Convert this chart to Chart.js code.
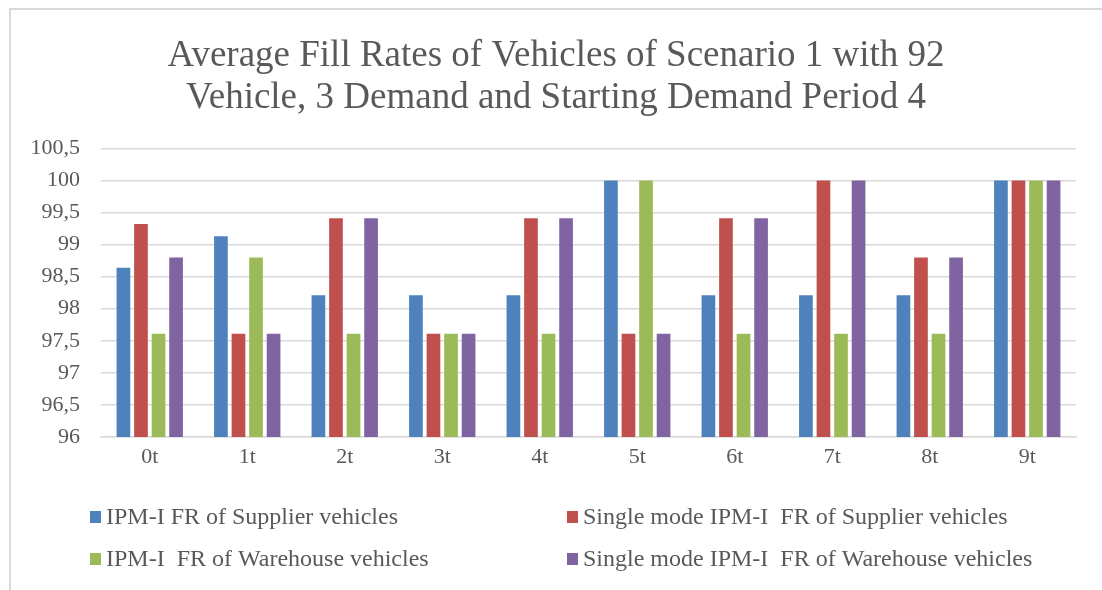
<!DOCTYPE html>
<html>
<head>
<meta charset="utf-8">
<title>Average Fill Rates</title>
<script src="https://cdn.jsdelivr.net/npm/chart.js@4.4.1/dist/chart.umd.min.js"></script>
<style>
  html, body { margin: 0; padding: 0; background: #fff; overflow: hidden; font-family: 'Liberation Serif', serif; }
  #page { position: absolute; left: 0; top: 0; width: 1102px; height: 590px; overflow: hidden; }
  #frame { position: absolute; left: 9px; top: 8px; width: 1200px; height: 700px;
           border-left: 2px solid #d9d9d9; border-top: 2px solid #d9d9d9; }
  #wrap { position: absolute; left: 0; top: 0; width: 1102px; height: 590px; }
  #warm { position: absolute; left: -999px; top: 0; font-family: 'Liberation Serif'; }
</style>
</head>
<body>
<div id="page">
<div id="frame"></div>
<div id="wrap"><canvas id="fillchart"></canvas></div>
<div id="warm">Average 0123456789</div>
</div>
<script>
var categories = ['0t', '1t', '2t', '3t', '4t', '5t', '6t', '7t', '8t', '9t'];

/* series values */
var supplierIPM     = [98.64, 99.13, 98.21, 98.21, 98.21, 100, 98.21, 98.21, 98.21, 100];
var supplierSingle  = [99.32, 97.61, 99.41, 97.61, 99.41, 97.61, 99.41, 100, 98.80, 100];
var warehouseIPM    = [97.61, 98.80, 97.61, 97.61, 97.61, 100, 97.61, 97.61, 97.61, 100];
var warehouseSingle = [98.80, 97.61, 99.41, 97.61, 99.41, 97.61, 99.41, 100, 98.80, 100];

var seriesNames = [
  'IPM-I FR of Supplier vehicles',
  'Single mode IPM-I  FR of Supplier vehicles',
  'IPM-I  FR of Warehouse vehicles',
  'Single mode IPM-I  FR of Warehouse vehicles'
];
var yTicks = [96, 96.5, 97, 97.5, 98, 98.5, 99, 99.5, 100, 100.5];

var textGray = '#595959';
var serif = "'Liberation Serif', serif";

// legend in two columns, like the Excel original
var twoColLegend = {
  id: 'twoColLegend',
  afterLayout: function (chart) {
    // title sits centred on the whole frame, not on the padded box
    if (chart.titleBlock) {
      chart.titleBlock.left += 18;
      chart.titleBlock.right += 18;
    }
  },
  afterDraw: function (chart) {
    var ctx = chart.ctx;
    var colX = [90, 567];
    var rowY = [517, 559];
    ctx.save();
    ctx.font = '24px ' + serif;
    ctx.textBaseline = 'middle';
    chart.data.datasets.forEach(function (ds, i) {
      var x = colX[i % 2], y = rowY[Math.floor(i / 2)];
      ctx.fillStyle = ds.backgroundColor;
      ctx.fillRect(x, y - 6, 11, 12);
      ctx.fillStyle = textGray;
      ctx.fillText(ds.label, x + 16, y + 1);
    });
    ctx.restore();
  }
};

function buildChart() {
  var fillCanvas = document.getElementById('fillchart');
  return new Chart(fillCanvas, {
    type: 'bar',
    data: {
      labels: categories,
      datasets: [
        { label: seriesNames[0], data: supplierIPM, backgroundColor: '#4F81BD' },
        { label: seriesNames[1], data: supplierSingle, backgroundColor: '#C0504D' },
        { label: seriesNames[2], data: warehouseIPM, backgroundColor: '#9BBB59' },
        { label: seriesNames[3], data: warehouseSingle, backgroundColor: '#8064A2' }
      ]
    },
    options: {
      responsive: true,
      maintainAspectRatio: false,
      animation: false,
      datasets: {
        bar: { categoryPercentage: 0.72, barPercentage: 0.78 }
      },
      layout: { padding: { left: 0, right: 26, top: 0, bottom: 113 } },
      plugins: {
        legend: { display: false },
        tooltip: { enabled: false },
        title: {
          display: true,
          text: ['Average Fill Rates of Vehicles of Scenario 1 with 92', 'Vehicle, 3 Demand and Starting Demand Period 4'],
          color: textGray,
          font: { family: serif, size: 37, weight: 'normal', lineHeight: 1.14 },
          padding: { top: 35, bottom: 29 }
        }
      },
      scales: {
        x: {
          grid: { display: false, drawTicks: false },
          border: { color: '#d9d9d9', width: 1.5 },
          ticks: { color: textGray, font: { family: serif, size: 22 }, padding: 7 },
          afterFit: function (scale) { scale.height = 40; }
        },
        y: {
          min: 96,
          max: 100.5,
          afterBuildTicks: function (scale) {
            scale.ticks = yTicks.map(function (v) { return { value: v }; });
          },
          grid: { color: '#d9d9d9', lineWidth: 1.5, drawTicks: false },
          border: { display: false },
          ticks: {
            color: textGray,
            font: { family: serif, size: 22 },
            padding: 21,
            callback: function (v) { return String(v).replace('.', ','); }
          },
          afterFit: function (scale) { scale.width = 101; }
        }
      }
    },
    plugins: [twoColLegend]
  });
}

var fillChart = null;
document.fonts.load("36px 'Liberation Serif'").then(function () {
  fillChart = buildChart();
}, function () {
  fillChart = buildChart();
});
</script>
</body>
</html>
